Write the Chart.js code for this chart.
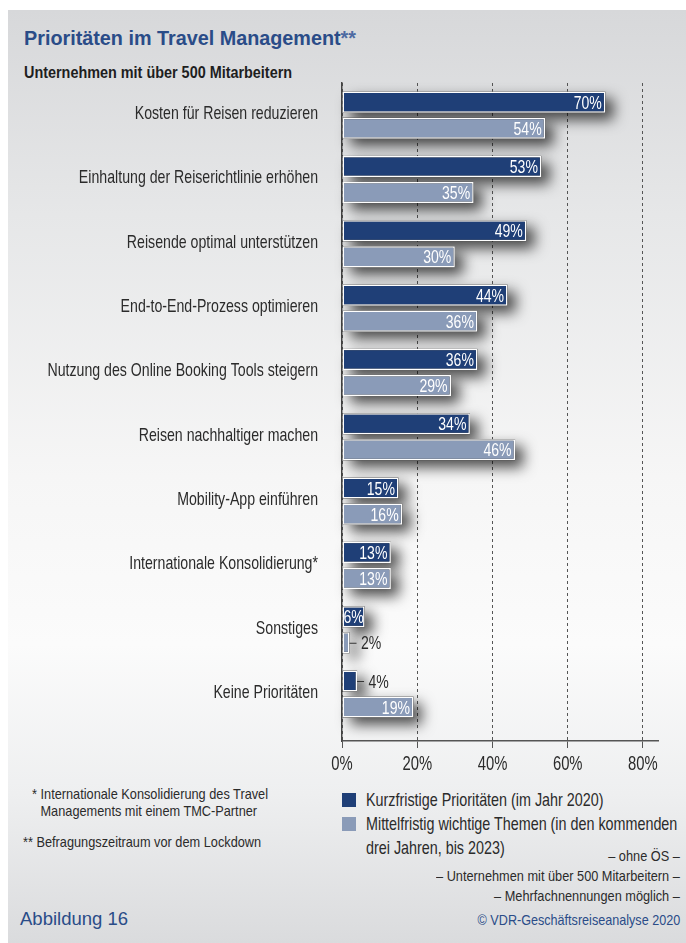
<!DOCTYPE html>
<html lang="de">
<head>
<meta charset="utf-8">
<title>Prioritäten im Travel Management</title>
<script src="https://cdn.jsdelivr.net/npm/chart.js@4/dist/chart.umd.min.js"></script>
<style>
  html, body { margin:0; padding:0; background:#fff; }
  body { width:686px; height:943px; position:relative; overflow:hidden;
         font-family:'Liberation Sans',Arial,sans-serif; color:#2b2b2b; }
  .card { position:absolute; left:8px; top:10px; right:0; bottom:0;
          background:linear-gradient(to bottom,#d7d8da 0%,#e6e7e8 22%,#f6f6f6 50%,#fbfbfb 68%,#eeeff0 84%,#dadbdd 100%); }
  .abs { position:absolute; white-space:nowrap; transform-origin:0 0; }
  .title { left:24px; top:29px; font-size:19.8px; line-height:1; font-weight:bold; color:#2a4c88; }
  .title span { color:#4d6aa2; }
  .sub { left:24px; top:65px; font-size:16px; line-height:1; font-weight:bold; color:#1e1e1e; transform:scaleX(0.9); }
  .note { font-size:15px; line-height:17px; color:#2b2b2b; transform:scaleX(0.85); }
  .hang { padding-left:10px; text-indent:-10px; }
  .legend { left:342px; top:788px; font-size:18.5px; line-height:24px; color:#2b2b2b; }
  .legend div { position:relative; padding-left:24px; }
  .legend i { position:absolute; left:0; top:5px; width:14px; height:14px; }
  .legend span { display:inline-block; transform:scaleX(0.775); transform-origin:0 0; }
  .right { right:6px; text-align:right; font-size:15px; line-height:20px; color:#2b2b2b;
           transform:scaleX(0.85); transform-origin:100% 0; }
  .fig { left:20px; top:910px; font-size:18.5px; line-height:1; color:#2a4c88; }
  .copy { right:6px; top:912px; font-size:15px; line-height:1; color:#2a4c88; transform:scaleX(0.84); transform-origin:100% 0; }
  #wrap { position:absolute; left:0; top:0; width:686px; height:943px; }
</style>
</head>
<body>
<div class="card"></div>
<div class="abs title">Prioritäten im Travel Management<span>**</span></div>
<div class="abs sub">Unternehmen mit über 500 Mitarbeitern</div>

<div class="abs note hang" style="left:32px;top:785px;">* Internationale Konsolidierung des Travel<br>Managements mit einem TMC-Partner</div>
<div class="abs note" style="left:23px;top:833px;">** Befragungszeitraum vor dem Lockdown</div>

<div class="abs legend" id="legend"></div>

<div class="abs right" style="top:846px;">– ohne ÖS –<br>– Unternehmen mit über 500 Mitarbeitern –<br>– Mehrfachnennungen möglich –</div>
<div class="abs fig">Abbildung 16</div>
<div class="abs copy">© VDR-Geschäftsreiseanalyse 2020</div>

<div id="wrap"><canvas id="prioChart" width="686" height="943"></canvas></div>

<script>
'use strict';

const categories = [
  'Kosten für Reisen reduzieren',
  'Einhaltung der Reiserichtlinie erhöhen',
  'Reisende optimal unterstützen',
  'End-to-End-Prozess optimieren',
  'Nutzung des Online Booking Tools steigern',
  'Reisen nachhaltiger machen',
  'Mobility-App einführen',
  'Internationale Konsolidierung*',
  'Sonstiges',
  'Keine Prioritäten',
];
const kurzfristig   = [70, 53, 49, 44, 36, 34, 15, 13, 6, 4];
const mittelfristig = [54, 35, 30, 36, 29, 46, 16, 13, 2, 19];
const xTicks = [0, 20, 40, 60, 80];
const seriesNames = [
  'Kurzfristige Prioritäten (im Jahr 2020)',
  'Mittelfristig wichtige Themen (in den kommenden<br>drei Jahren, bis 2023)',
];

const DARK = '#1f3f77';
const LIGHT = '#8a9bb8';
const FONT = "'Liberation Sans', Arial, sans-serif";

// legend below the plot
document.getElementById('legend').innerHTML = seriesNames.map((n, i) =>
  `<div><i style="background:${i ? LIGHT : DARK}"></i><span>${n}</span></div>`).join('');

// narrow type: squeeze the glyphs horizontally via fillText's maxWidth
function narrowText(ctx, txt, x, y, squeeze) {
  const w = ctx.measureText(txt).width * squeeze;
  ctx.fillText(txt, x, y, w);
  return w;
}

// soft shadows behind every bar, painted before the bars themselves
const barShadows = {
  id: 'barShadows',
  beforeDatasetsDraw(chart) {
    const ctx = chart.ctx;
    ctx.save();
    ctx.shadowColor = 'rgba(0,0,0,0.7)';
    ctx.shadowBlur = 14;
    ctx.shadowOffsetX = 8;
    ctx.shadowOffsetY = 7;
    ctx.fillStyle = '#333';
    chart.data.datasets.forEach((ds, di) => {
      chart.getDatasetMeta(di).data.forEach(bar => {
        const h = bar.height;
        ctx.fillRect(bar.base, bar.y - h / 2, bar.x - bar.base, h);
      });
    });
    ctx.restore();
  }
};

// category names left of the axis and percent ticks below it
const axisLabels = {
  id: 'axisLabels',
  afterDraw(chart) {
    const ctx = chart.ctx;
    const { x, y } = chart.scales;
    ctx.save();
    ctx.fillStyle = '#2b2b2b';
    ctx.textBaseline = 'alphabetic';

    ctx.font = `17.7px ${FONT}`;
    ctx.textAlign = 'right';
    categories.forEach((c, i) => narrowText(ctx, c, y.right - 24, y.getPixelForValue(i) + 3.8, 0.8));

    ctx.font = `19.5px ${FONT}`;
    ctx.textAlign = 'center';
    xTicks.forEach(v => narrowText(ctx, v + '%', x.getPixelForValue(v), x.top + 29, 0.76));
    ctx.restore();
  }
};

// percentage labels: white inside the bar, or outside with a short dash
const valueLabels = {
  id: 'valueLabels',
  afterDatasetsDraw(chart) {
    const ctx = chart.ctx;
    ctx.save();
    ctx.font = `18.5px ${FONT}`;
    ctx.textBaseline = 'alphabetic';
    chart.data.datasets.forEach((ds, di) => {
      chart.getDatasetMeta(di).data.forEach((bar, i) => {
        const txt = ds.data[i].x + '%';
        const w = ctx.measureText(txt).width * 0.76;
        const y = bar.y + 6.6;
        if (bar.x - bar.base >= w) {
          ctx.fillStyle = '#fff';
          ctx.textAlign = 'right';
          narrowText(ctx, txt, Math.max(bar.x - 3.5, bar.base + 1 + w), y, 0.76);
        } else {
          ctx.strokeStyle = '#333';
          ctx.lineWidth = 1;
          ctx.beginPath();
          ctx.moveTo(bar.x, bar.y + 0.5);
          ctx.lineTo(bar.x + 7, bar.y + 0.5);
          ctx.stroke();
          ctx.fillStyle = '#2b2b2b';
          ctx.textAlign = 'left';
          narrowText(ctx, txt, bar.x + 11.5, y, 0.76);
        }
      });
    });
    ctx.restore();
  }
};

const chart = new Chart(document.getElementById('prioChart'), {
  type: 'bar',
  data: {
    datasets: [
      { label: 'Kurzfristig', data: kurzfristig.map((v, i) => ({ x: v, y: i })), backgroundColor: DARK },
      { label: 'Mittelfristig', data: mittelfristig.map((v, i) => ({ x: v, y: i })), backgroundColor: LIGHT },
    ]
  },
  options: {
    indexAxis: 'y',
    responsive: false,
    animation: false,
    devicePixelRatio: 1,
    layout: { padding: { left: 0, top: 83, right: 28, bottom: 162 } },
    datasets: {
      bar: { borderColor: '#fff', borderWidth: 1.5, borderSkipped: false,
             categoryPercentage: 0.81, barPercentage: 0.81 }
    },
    plugins: { legend: { display: false }, tooltip: { enabled: false } },
    scales: {
      x: {
        type: 'linear', min: 0, max: 84,
        afterFit: s => { s.height = 40; },
        afterBuildTicks: s => { s.ticks = xTicks.map(v => ({ value: v })); },
        ticks: { display: false },
        grid: { color: '#555', lineWidth: 1, tickLength: 7, tickColor: '#555' },
        border: { display: true, color: '#555', width: 1.5, dash: [3, 3] },
      },
      y: {
        type: 'linear', reverse: true, offset: false, min: -0.5, max: 9.73,
        afterFit: s => { s.width = 342; },
        afterBuildTicks: s => { s.ticks = categories.map((_, i) => ({ value: i })); },
        ticks: { display: false },
        grid: { display: false, offset: false },
        border: { display: true, color: '#444', width: 1.5 },
      }
    }
  },
  plugins: [barShadows, axisLabels, valueLabels]
});
</script>
</body>
</html>
